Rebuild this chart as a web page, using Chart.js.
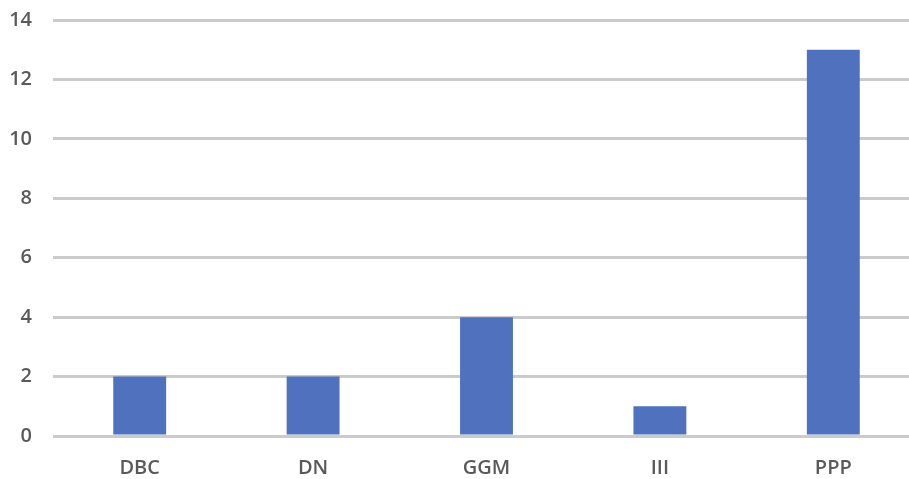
<!DOCTYPE html>
<html>
<head>
<meta charset="utf-8">
<script src="https://cdn.jsdelivr.net/npm/chart.js@4/dist/chart.umd.min.js"></script>
<style>
  html, body { margin: 0; padding: 0; background: #ffffff; }
  #wrap { width: 909px; height: 479px; overflow: hidden; position: relative; }
  canvas { display: block; }
</style>
</head>
<body>
<div id="wrap"><canvas id="c" width="920" height="479"></canvas></div>
<script>
// Counts per group
const categories = ['DBC', 'DN', 'GGM', 'III', 'PPP'];
const counts = [2, 2, 4, 1, 13];
const yTicks = [0, 2, 4, 6, 8, 10, 12, 14];

const labelFont = { family: '"Open Sans", "DejaVu Sans", sans-serif', size: 20, weight: '600' };
const labelColor = '#5a5a5a';

new Chart(document.getElementById('c'), {
  type: 'bar',
  data: {
    labels: categories,
    datasets: [{
      data: counts,
      backgroundColor: '#4f71be',
      borderWidth: 0,
      barPercentage: 0.305,
      categoryPercentage: 1.0
    }]
  },
  options: {
    responsive: false,
    animation: false,
    layout: { padding: { top: 20, right: 0, bottom: 0, left: 0 } },
    plugins: { legend: { display: false }, tooltip: { enabled: false } },
    scales: {
      x: {
        grid: { display: false },
        border: { display: false },
        ticks: { color: labelColor, font: labelFont, padding: 12 },
        afterFit(scale) { scale.height = 43; scale.paddingLeft = 0; scale.paddingRight = 0; }
      },
      y: {
        min: 0,
        max: 14,
        afterBuildTicks(scale) { scale.ticks = yTicks.map(v => ({ value: v })); },
        grid: { color: '#cbcbcb', lineWidth: 3, drawTicks: false },
        border: { display: false },
        ticks: { color: labelColor, font: labelFont, padding: 21 },
        afterFit(scale) { scale.width = 53; scale.paddingTop = 0; scale.paddingBottom = 0; }
      }
    }
  }
});
</script>
</body>
</html>
